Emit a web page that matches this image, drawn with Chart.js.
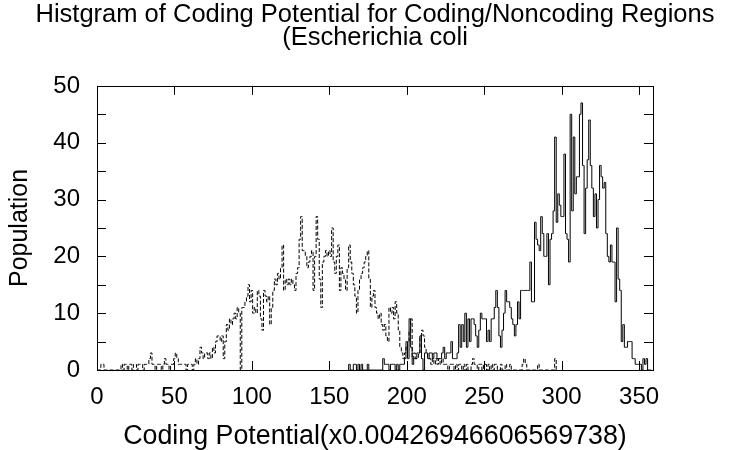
<!DOCTYPE html>
<html>
<head>
<meta charset="utf-8">
<script src="https://cdn.jsdelivr.net/npm/chart.js@4.4.1/dist/chart.umd.min.js"></script>
<style>
  html, body { margin: 0; padding: 0; background: #fff; }
</style>
</head>
<body>
<canvas id="histChart" width="731" height="450"></canvas>
<script>
// noncoding regions: one count per bin, first bin at x = 0
const noncodingStart = 0;
const noncodingCounts = [
  0, 0, 0, 1, 1, 0, 0, 0, 0, 0,
  0, 0, 0, 0, 0, 0, 1, 0, 1, 1,
  0, 1, 1, 0, 1, 1, 0, 1, 1, 1,
  0, 1, 1, 1, 2, 3, 1, 1, 0, 1,
  1, 1, 0, 1, 2, 1, 1, 0, 1, 1,
  2, 3, 2, 1, 1, 1, 1, 1, 0, 1,
  1, 1, 0, 1, 2, 1, 2, 4, 3, 2,
  3, 3, 2, 3, 2, 4, 3, 5, 6, 6,
  5, 6, 2, 5, 8, 7, 9, 8, 9, 10,
  9, 11, 10, 0, 11, 11, 12, 13, 15, 12,
  14, 10, 11, 10, 14, 13, 9, 7, 14, 13,
  12, 13, 8, 11, 14, 16, 15, 17, 16, 18,
  22, 14, 16, 15, 16, 15, 16, 15, 14, 17,
  18, 23, 27, 21, 21, 20, 18, 19, 20, 21,
  14, 20, 27, 23, 16, 11, 19, 20, 21, 20,
  21, 20, 25, 19, 17, 20, 22, 14, 18, 17,
  16, 14, 18, 22, 19, 17, 15, 13, 10, 14,
  16, 17, 18, 19, 20, 21, 16, 11, 13, 14,
  11, 10, 9, 10, 8, 7, 8, 6, 5, 11,
  10, 11, 9, 12, 10, 7, 4, 3, 2, 3,
  4, 5, 7, 9, 2, 3, 2, 2, 3, 6,
  7, 6, 4, 3, 2, 2, 1, 2, 1, 2,
  1, 2, 1, 2, 1, 1, 1, 0, 1, 1,
  1, 0, 1, 0, 1, 1, 0, 1, 0, 1,
  0, 0, 1, 2, 1, 1, 0, 1, 1, 0,
  1, 1, 0, 1, 0, 1, 0, 1, 1, 0,
  0, 1, 0, 0, 1, 0, 0, 1, 0, 0,
  0, 0, 0, 0, 0, 1, 2, 1, 0, 0,
  0, 0, 0, 0, 0, 1, 0, 0, 0, 0,
  0, 0, 0, 0, 0, 0, 2, 0
];

// coding regions: one count per bin, first bin at x = 162
const codingStart = 162;
const codingCounts = [
  0, 1, 0, 0, 1, 1, 0, 1,
  0, 1, 0, 0, 0, 1, 0, 0, 0, 0,
  0, 0, 0, 0, 0, 2, 1, 1, 1, 0,
  1, 1, 1, 0, 1, 0, 1, 1, 1, 2,
  5, 2, 9, 4, 1, 2, 2, 3, 3, 6,
  2, 0, 3, 3, 2, 3, 3, 2, 3, 3,
  2, 2, 2, 3, 4, 2, 3, 3, 3, 5,
  2, 2, 2, 3, 8, 4, 8, 5, 10, 4,
  9, 5, 9, 9, 8, 6, 4, 7, 10, 9,
  9, 9, 5, 7, 5, 9, 9, 11, 14, 11,
  6, 4, 7, 10, 14, 12, 12, 11, 9, 8,
  6, 8, 12, 9, 14, 14, 14, 14, 14, 14,
  19, 12, 12, 26, 23, 22, 21, 27, 24, 20,
  20, 24, 15, 23, 24, 28, 41, 26, 31, 29,
  27, 27, 38, 24, 23, 19, 45, 28, 41, 31,
  34, 34, 45, 47, 36, 24, 32, 37, 44, 36,
  32, 27, 31, 25, 30, 36, 34, 32, 33, 24,
  20, 19, 22, 19, 19, 12, 25, 16, 14, 5,
  8, 4, 4, 5, 5, 5, 2, 2, 1, 1,
  1, 1, 0, 2, 1, 2, 0, 0, 0
];

const xTicks = [0, 50, 100, 150, 200, 250, 300, 350];
const yTicks = [0, 5, 10, 15, 20, 25, 30, 35, 40, 45, 50];

function toPoints(start, counts) {
  return counts.map((c, i) => ({ x: start + i, y: c }));
}

// frame round the plot plus short inward tick marks on all four sides
const frameTicks = {
  id: 'frameTicks',
  afterDatasetsDraw(chart) {
    const { ctx, chartArea: a, scales: { x, y } } = chart;
    const len = 9;
    ctx.save();
    ctx.strokeStyle = '#000';
    ctx.lineWidth = 1;
    ctx.beginPath();
    xTicks.forEach(v => {
      const px = Math.round(x.getPixelForValue(v)) + 0.5;
      ctx.moveTo(px, a.bottom); ctx.lineTo(px, a.bottom - len);
      ctx.moveTo(px, a.top); ctx.lineTo(px, a.top + len);
    });
    yTicks.forEach(v => {
      const py = Math.round(y.getPixelForValue(v)) + 0.5;
      ctx.moveTo(a.left, py); ctx.lineTo(a.left + len, py);
      ctx.moveTo(a.right, py); ctx.lineTo(a.right - len, py);
    });
    ctx.stroke();
    ctx.strokeRect(Math.round(a.left) + 0.5, Math.round(a.top) + 0.5,
                   Math.round(a.right - a.left), Math.round(a.bottom - a.top));
    ctx.restore();
  }
};

const font = 'Liberation Sans, Arial, Helvetica, sans-serif';

new Chart(document.getElementById('histChart').getContext('2d'), {
  type: 'line',
  data: {
    datasets: [
      {
        label: 'Noncoding',
        data: toPoints(noncodingStart, noncodingCounts),
        borderColor: '#000',
        borderWidth: 1,
        borderDash: [4, 2],
        stepped: 'middle',
        pointRadius: 0,
        fill: false
      },
      {
        label: 'Coding',
        data: toPoints(codingStart, codingCounts),
        borderColor: '#000',
        borderWidth: 1,
        stepped: 'middle',
        pointRadius: 0,
        fill: false
      }
    ]
  },
  options: {
    responsive: false,
    animation: false,
    events: [],
    layout: { padding: { left: 19, right: 0, top: 0, bottom: 0 } },
    plugins: {
      legend: { display: false },
      tooltip: { enabled: false },
      title: {
        display: true,
        text: ['Histgram of Coding Potential for Coding/Noncoding Regions', '(Escherichia coli'],
        color: '#000',
        font: { family: font, size: 25.5, weight: 'normal', lineHeight: 0.88 },
        padding: { top: 4, bottom: 37 }
      }
    },
    scales: {
      x: {
        type: 'linear',
        min: 0,
        max: 359,
        grid: { display: false, drawTicks: false },
        border: { display: false },
        ticks: {
          stepSize: 50,
          includeBounds: false,
          padding: 13,
          color: '#000',
          font: { family: font, size: 24 }
        },
        title: {
          display: true,
          text: 'Coding Potential(x0.00426946606569738)',
          color: '#000',
          font: { family: font, size: 26.8, lineHeight: 1 },
          padding: 0
        },
        afterFit(scale) { scale.height = 80; }
      },
      y: {
        min: 0,
        max: 50,
        grid: { display: false, drawTicks: false },
        border: { display: false },
        ticks: {
          stepSize: 5,
          padding: 17,
          color: '#000',
          font: { family: font, size: 24 }
        },
        title: {
          display: true,
          text: 'Population',
          color: '#000',
          font: { family: font, size: 25, lineHeight: 1 },
          padding: { top: -11.5, bottom: 0 }
        },
        afterFit(scale) { scale.width = 78; }
      },
      // empty right-hand axis, only reserves the margin beside the plot
      yRight: {
        position: 'right',
        min: 0,
        max: 50,
        grid: { display: false, drawTicks: false },
        border: { display: false },
        ticks: { display: false },
        afterFit(scale) { scale.width = 78; }
      }
    }
  },
  plugins: [frameTicks]
});
</script>
</body>
</html>
